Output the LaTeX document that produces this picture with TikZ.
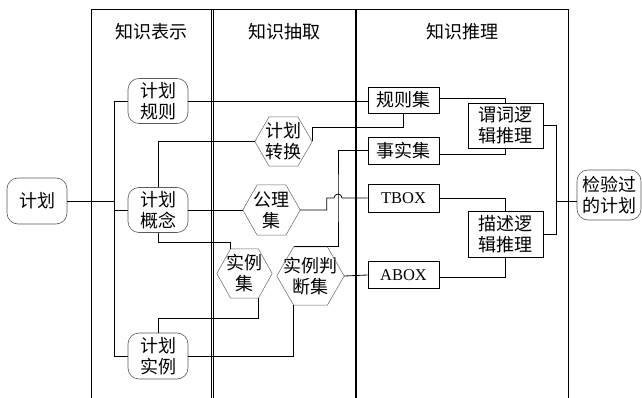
\documentclass[tikz,border=0pt]{standalone}
\usepackage{fontspec}
\setmainfont{Liberation Serif}
\newfontfamily\cjk{Noto Sans CJK SC}
\usetikzlibrary{calc}
\newcommand\hexdraw[1]{\draw[hexline] (#1.west) -- ($(#1.north west)!.25!(#1.north east)$) -- ($(#1.north west)!.75!(#1.north east)$) -- (#1.east) -- ($(#1.south west)!.75!(#1.south east)$) -- ($(#1.south west)!.25!(#1.south east)$) -- cycle;}
\begin{document}
\begin{tikzpicture}[x=1pt,y=-1pt,
  every node/.style={font=\cjk\fontsize{18}{21}\selectfont, align=center, inner sep=0pt},
  conn/.style={draw=black, line width=0.8pt},
  lane/.style={draw=black, line width=0.7pt},
  hexline/.style={draw=black!60, line width=0.5pt},
  rbox/.style={draw=black!65, line width=0.6pt, rounded corners=11pt, minimum width=60pt, minimum height=46pt},
  sbox/.style={draw=black, line width=0.8pt, minimum width=71pt, minimum height=27pt},
  lbox/.style={draw=black, line width=0.8pt, minimum width=75pt, minimum height=45pt},
  latin/.style={font=\fontsize{16.5}{20}\selectfont}]
\useasboundingbox (0,0) rectangle (642,398);
% swimlanes
\draw[lane] (91,398) -- (91,9) -- (568,9) -- (568,398);
\draw[lane, line width=0.6pt] (211.5,9) -- (211.5,398);
\draw[lane, line width=0.6pt] (213.5,9) -- (213.5,398);
\draw[lane, line width=1.6pt] (356,9) -- (356,398);
\node (h1) at (151.5,32) {知识表示};
\node (h2) at (284.5,32) {知识抽取};
\node (h3) at (462,32) {知识推理};
% nodes
\node[rbox] (start) at (37,201) {计划};
\node[rbox, minimum height=45pt] (rule) at (158,101) {计划\\规则};
\node[rbox, minimum height=45pt] (concept) at (158,210) {计划\\概念};
\node[rbox] (inst) at (158,356) {计划\\实例};
\node[minimum width=57pt, minimum height=49pt] (conv) at (283.5,141.5) {计划\\转换};
\node[minimum width=57pt, minimum height=50pt] (axiom) at (271.5,210) {公理\\集};
\node[minimum width=55pt, minimum height=49pt] (iset) at (244.5,273.5) {实例\\集};
\node[minimum width=67pt, minimum height=58pt] (judge) at (310.5,276) {实例判\\断集};
\hexdraw{conv}
\hexdraw{axiom}
\hexdraw{iset}
\hexdraw{judge}
\node[sbox, minimum height=26pt] (ruleset) at (403.5,100) {规则集};
\node[sbox] (factset) at (403.5,150.5) {事实集};
\node[sbox, minimum height=28pt, latin] (tbox) at (403.5,198) {TBOX};
\node[sbox, latin] (abox) at (403.5,275) {ABOX};
\node[lbox] (pred) at (505.5,125.5) {谓词逻\\辑推理};
\node[lbox, minimum height=46pt] (desc) at (505.5,234) {描述逻\\辑推理};
\node[rbox, minimum width=64pt, minimum height=50pt] (result) at (609,195) {检验过\\的计划};
% helper coordinates
\coordinate (bx) at (114,0);
\coordinate (bx2) at (556,0);
\coordinate (jx) at (338,198);
\coordinate (itl) at ($(iset.north west)!.25!(iset.north east)$);
\coordinate (ibr) at ($(iset.south west)!.75!(iset.south east)$);
\coordinate (jtl) at ($(judge.north west)!.25!(judge.north east)$);
\coordinate (jbl) at ($(judge.south west)!.25!(judge.south east)$);
% connectors
\draw[conn] (start.east) -- (start.east -| bx);
\draw[conn] (rule.west) -- (rule.west -| bx) -- (inst.west -| bx) -- (inst.west);
\draw[conn] (concept.west -| bx) -- (concept.west);
\draw[conn] (rule.east) -- (rule.east -| ruleset.west);
\draw[conn] (concept.north) |- (conv.west);
\draw[conn] (conv.east) -- ++(0,-14.5) -| (ruleset.south);
\draw[conn] (concept.east) -- (axiom.west);
\draw[conn] (axiom.east) -- ++(26.5,0) |- ([xshift=-4pt]jx) arc[start angle=180, end angle=0, radius=4pt] -- (tbox.west);
\draw[conn] (factset.west) -| (jx) |- (jtl);
\draw[conn] (judge.east) -- (abox.west);
\draw[conn] (concept.south) -- ++(0,10) -| (itl);
\draw[conn] (ibr) -- ++(0,20) -| (inst.north);
\draw[conn] (inst.east) -| (jbl);
\draw[conn] ([yshift=1.5pt]ruleset.east) -| (pred.north);
\draw[conn] ([yshift=-3.5pt]factset.east) -| (pred.south);
\draw[conn] (tbox.east) -| (desc.north);
\draw[conn] ([yshift=-2pt]abox.east) -| (desc.south);
\draw[conn] (pred.east) -- (pred.east -| bx2) -- (desc.east -| bx2) -- (desc.east);
\draw[conn] ([yshift=-6pt]result.west -| bx2) -- ([yshift=-6pt]result.west);
\end{tikzpicture}
\end{document}
